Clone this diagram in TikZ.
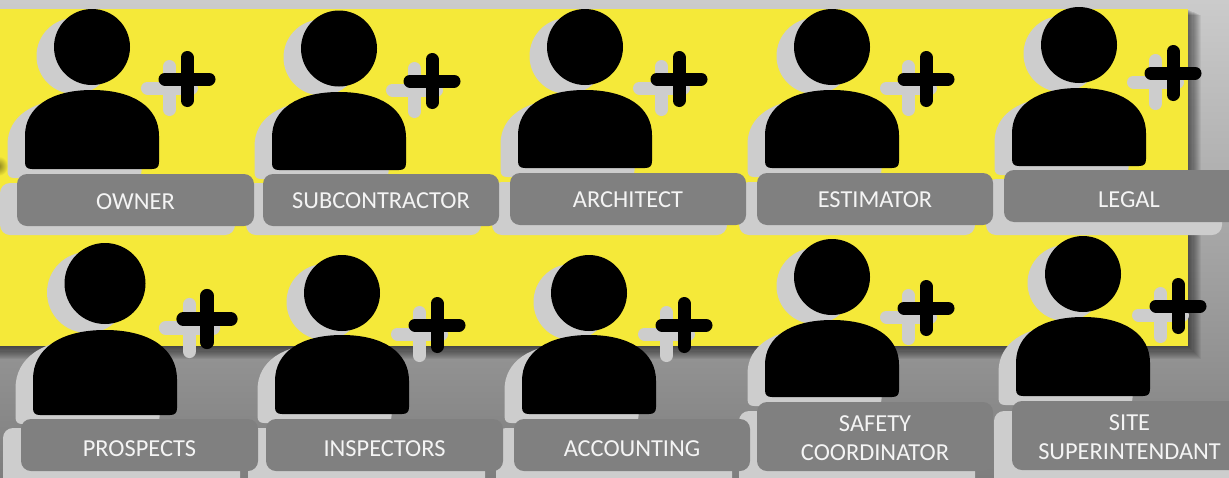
\documentclass[tikz,border=0pt]{standalone}
\usepackage{fontspec}
\setmainfont{Carlito}
\definecolor{bgtop}{HTML}{CBCBCB}
\definecolor{bgmid}{HTML}{9C9C9C}
\definecolor{bgbot}{HTML}{7E7E7E}
\definecolor{banner}{HTML}{F5E939}
\definecolor{ghost}{HTML}{CDCDCD}
\definecolor{tag}{HTML}{808080}
\definecolor{tagtext}{HTML}{F4F4F4}
\tikzset{
  x=0.5pt,y=-0.5pt,
  tagbox/.style={fill=tag,rounded corners=5pt,inner sep=0pt,text=tagtext,align=center,
    font=\fontsize{12.2}{14.5}\selectfont},
  ghostbox/.style={fill=ghost,rounded corners=5pt}
}
\newcommand{\capt}[2]{\raisebox{-#1pt}[0pt][0pt]{#2}}
% one figure: head cx cy r, body left right top bottom, plus cx cy
\newcommand{\pfigure}[9]{%
  \pgfmathsetmacro{\pS}{(#5-#4)/134}%
  \pgfmathsetmacro{\pC}{(#4+#5)/2}%
  \pgfmathsetmacro{\pRx}{(#5-#4)/2}%
  \pgfmathsetmacro{\pRy}{(#7-#6)*0.58}%
  \pgfmathsetmacro{\pYm}{#6+\pRy}%
  \pgfmathsetmacro{\pKx}{\pRx*0.62}%
  \pgfmathsetmacro{\pKy}{\pRy*0.62}%
  \pgfmathsetmacro{\pHl}{22*\pS}%
  \pgfmathsetmacro{\pHv}{21.5*\pS}%
  \begin{scope}[shift={(\pDx,\pDy)}]
    \fill[\pCol] (#1,#2) circle[radius=#3];
    \fill[\pCol] (#4,\pYm)
      .. controls (#4,\pYm-\pKy) and (\pC-\pKx,#6) .. (\pC,#6)
      .. controls (\pC+\pKx,#6) and (#5,\pYm-\pKy) .. (#5,\pYm)
      -- (#5,#7-7) .. controls (#5,#7-2) and (#5-2,#7) .. (#5-7,#7)
      -- (#4+7,#7) .. controls (#4+2,#7) and (#4,#7-2) .. (#4,#7-7) -- cycle;
    \draw[\pCol,line width=6.5pt*\pS,line cap=round] (#8,#9-\pHv) -- (#8,#9+\pHv);
    \draw[\pCol,line width=6.5pt*\pS,line cap=round] (#8-\pHl,#9) -- (#8+\pHl,#9);
  \end{scope}}
\newcommand{\allfigures}{%
  \pfigure{92}{47}{38}{25}{159}{90}{169}{187}{79}%
  \pfigure{339}{48.5}{38}{272}{406}{92}{170}{432}{81}%
  \pfigure{585}{47}{38}{518}{652}{90}{168}{679}{79}%
  \pfigure{832}{47}{38}{765}{899}{90}{168}{926}{79}%
  \pfigure{1079}{45}{38}{1012}{1146}{88}{166}{1173}{73}%
  \pfigure{105}{283.5}{40.5}{33}{177}{330}{415}{207}{319}%
  \pfigure{342}{293}{38}{275}{409}{335}{414}{437}{325}%
  \pfigure{589}{293}{38}{522}{656}{335}{414}{684}{325}%
  \pfigure{832}{277}{38}{765}{899}{320}{397}{926}{308}%
  \pfigure{1083}{274}{38}{1016}{1150}{317}{396}{1178}{306}%
}
\newcommand{\ghosttag}[4]{\fill[ghostbox] (#1,#3) rectangle (#2,#4);}
% name, left, right, top, bottom, text
\newcommand{\labeltag}[6]{%
  \pgfmathsetmacro{\tW}{(#3-#2)*0.5}\pgfmathsetmacro{\tH}{(#5-#4)*0.5}%
  \node[tagbox,minimum width=\tW pt,minimum height=\tH pt] (#1) at ({(#2+#3)/2},{(#4+#5)/2}) {#6};}
\begin{document}
\begin{tikzpicture}
\clip (0,0) rectangle (1229,477);
% background
\shade[top color=bgtop,bottom color=bgmid] (0,0) rectangle (1229,300);
\shade[top color=bgmid,bottom color=bgbot] (0,300) rectangle (1229,477);
% banner shadow
\foreach \i in {1,...,12}{
  \fill[black,opacity=0.055] (-20,{9+\i*0.5}) rectangle ({1188+\i*1.1},{346+\i*1.1});
}
\fill[banner] (-20,9) rectangle (1188,346);
\shade[inner color=black!45!banner,outer color=banner] (-2,166) circle[radius=10];
% ghost layer
\def\pCol{ghost}\def\pDx{-17.5}\def\pDy{9}
\allfigures
\ghosttag{0}{235}{183}{235}
\ghosttag{246}{481}{183}{235}
\ghosttag{492}{727}{182}{235}
\ghosttag{739}{975}{182}{235}
\ghosttag{986}{1222}{179}{235}
\ghosttag{3}{240}{428}{490}
\ghosttag{248}{485}{428}{490}
\ghosttag{496}{732}{428}{490}
\ghosttag{739}{975}{411}{490}
\ghosttag{994}{1250}{411}{490}
% foreground layer
\def\pCol{black}\def\pDx{0}\def\pDy{0}
\allfigures
\labeltag{owner}{17}{254}{174}{226}{\capt{4.5}{OWNER}}
\labeltag{sub}{263}{499}{174}{226}{\capt{4}{SUBCONTRACTOR}}
\labeltag{arch}{510}{746}{173}{225}{\capt{4}{ARCHITECT}}
\labeltag{est}{757}{993}{173}{225}{\capt{4}{ESTIMATOR}}
\labeltag{legal}{1004}{1254}{170}{222}{\capt{5.5}{LEGAL}}
\labeltag{prosp}{21}{258}{419}{471}{\capt{5.5}{PROSPECTS}}
\labeltag{insp}{266}{503}{419}{471}{\capt{5.5}{INSPECTORS}}
\labeltag{acct}{514}{750}{419}{471}{\capt{5.5}{ACCOUNTING}}
\labeltag{safety}{757}{993}{402}{471}{\rule{0pt}{10pt}SAFETY\\COORDINATOR}
\labeltag{site}{1012}{1247}{401}{470}{\rule{0pt}{10pt}SITE\\SUPERINTENDANT}
\end{tikzpicture}
\end{document}
